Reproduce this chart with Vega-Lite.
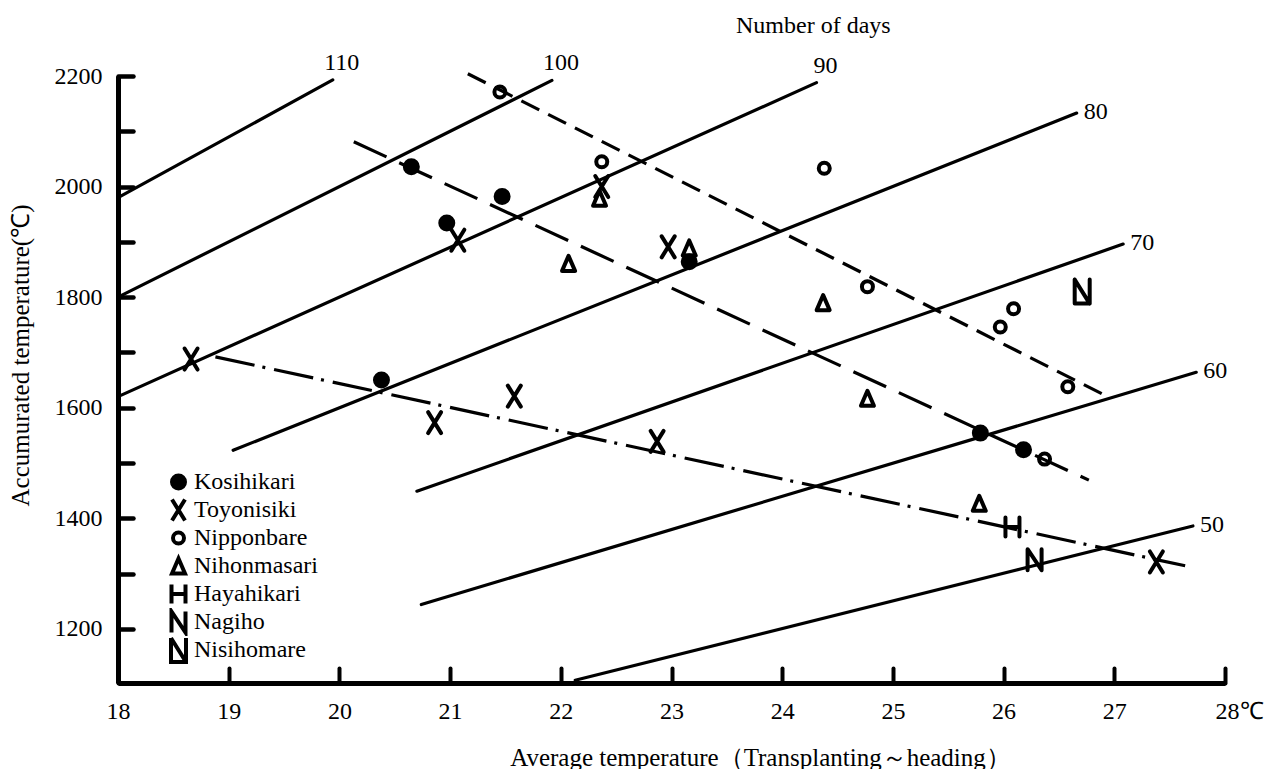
{
  "$schema": "https://vega.github.io/schema/vega-lite/v6.json",
  "width": 1107,
  "height": 607,
  "autosize": "none",
  "padding": {"left": 118, "top": 76, "right": 39, "bottom": 86},
  "background": "white",
  "config": {"view": {"stroke": null}, "font": "Liberation Serif"},
  "title": {"text": "Number of days", "anchor": "start", "frame": "group", "dx": 618, "offset": 13, "fontSize": 24, "fontWeight": "normal", "font": "Liberation Serif", "color": "black"},
  "datasets": {
    "pts": [
      {"v": "Kosihikari", "T": 20.65, "A": 2036},
      {"v": "Kosihikari", "T": 21.47, "A": 1982},
      {"v": "Kosihikari", "T": 20.97, "A": 1934},
      {"v": "Kosihikari", "T": 23.16, "A": 1864},
      {"v": "Kosihikari", "T": 20.38, "A": 1650},
      {"v": "Kosihikari", "T": 25.79, "A": 1554},
      {"v": "Kosihikari", "T": 26.18, "A": 1524},
      {"v": "Toyonisiki", "T": 18.66, "A": 1688},
      {"v": "Toyonisiki", "T": 21.07, "A": 1903},
      {"v": "Toyonisiki", "T": 22.37, "A": 2000},
      {"v": "Toyonisiki", "T": 22.97, "A": 1891},
      {"v": "Toyonisiki", "T": 20.86, "A": 1573},
      {"v": "Toyonisiki", "T": 21.58, "A": 1621},
      {"v": "Toyonisiki", "T": 22.87, "A": 1539},
      {"v": "Toyonisiki", "T": 27.38, "A": 1321},
      {"v": "Nipponbare", "T": 21.45, "A": 2171},
      {"v": "Nipponbare", "T": 22.37, "A": 2045},
      {"v": "Nipponbare", "T": 24.38, "A": 2033},
      {"v": "Nipponbare", "T": 24.77, "A": 1819},
      {"v": "Nipponbare", "T": 26.09, "A": 1779},
      {"v": "Nipponbare", "T": 25.97, "A": 1746},
      {"v": "Nipponbare", "T": 26.58, "A": 1638},
      {"v": "Nipponbare", "T": 26.37, "A": 1507},
      {"v": "Nihonmasari", "T": 22.35, "A": 1979},
      {"v": "Nihonmasari", "T": 22.07, "A": 1861},
      {"v": "Nihonmasari", "T": 23.16, "A": 1889},
      {"v": "Nihonmasari", "T": 24.37, "A": 1790},
      {"v": "Nihonmasari", "T": 24.77, "A": 1617},
      {"v": "Nihonmasari", "T": 25.78, "A": 1427},
      {"v": "Hayahikari", "T": 26.08, "A": 1384},
      {"v": "Nagiho", "T": 26.28, "A": 1325},
      {"v": "Nisihomare", "T": 26.71, "A": 1810}
    ],
    "iso": [
      {"days": 110, "T": 18, "A": 1980, "end": 0}, {"days": 110, "T": 19.94, "A": 2193, "end": 1},
      {"days": 100, "T": 18, "A": 1800, "end": 0}, {"days": 100, "T": 21.92, "A": 2192, "end": 1},
      {"days": 90, "T": 18, "A": 1620, "end": 0}, {"days": 90, "T": 24.31, "A": 2188, "end": 1},
      {"days": 80, "T": 19.04, "A": 1523, "end": 0}, {"days": 80, "T": 26.66, "A": 2133, "end": 1},
      {"days": 70, "T": 20.7, "A": 1449, "end": 0}, {"days": 70, "T": 27.08, "A": 1896, "end": 1},
      {"days": 60, "T": 20.74, "A": 1244, "end": 0}, {"days": 60, "T": 27.74, "A": 1664, "end": 1},
      {"days": 50, "T": 22.13, "A": 1107, "end": 0}, {"days": 50, "T": 27.71, "A": 1386, "end": 1}
    ],
    "reg": [
      {"line": "Nipponbare", "T": 21.16, "A": 2204}, {"line": "Nipponbare", "T": 26.96, "A": 1618},
      {"line": "Kosihikari", "T": 20.13, "A": 2081}, {"line": "Kosihikari", "T": 26.77, "A": 1469},
      {"line": "Toyonisiki", "T": 18.88, "A": 1692}, {"line": "Toyonisiki", "T": 27.64, "A": 1314}
    ]
  },
  "layer": [
    {
      "data": {"name": "iso"},
      "mark": {"type": "line", "color": "black", "strokeWidth": 3.2, "strokeCap": "round"},
      "encoding": {
        "x": {"field": "T", "type": "quantitative", "scale": {"domain": [18, 28], "nice": false, "zero": false},
          "axis": {
            "values": [18, 18.5, 19, 19.5, 20, 20.5, 21, 21.5, 22, 22.5, 23, 23.5, 24, 24.5, 25, 25.5, 26, 26.5, 27, 27.5, 28],
            "format": "d",
            "labelExpr": "datum.value % 1 == 0 ? (datum.value == 28 ? '28℃' : datum.label) : ''",
            "labelOffset": {"condition": {"test": "datum.value == 28", "value": 14}, "value": 0},
            "grid": false, "tickSize": -15, "tickWidth": 4, "tickColor": "black", "tickCap": "round",
            "domainWidth": 5, "domainColor": "black",
            "labelFontSize": 24, "labelFont": "Liberation Serif", "labelColor": "black", "labelPadding": 31,
            "labelFlush": false, "labelOverlap": false,
            "title": "Average temperature（Transplanting～heading）",
            "titleFont": "Liberation Serif", "titleFontSize": 25, "titleFontWeight": "normal", "titleColor": "black",
            "titleX": 642, "titleY": 74, "titleBaseline": "middle", "titleAlign": "center"
          }},
        "y": {"field": "A", "type": "quantitative", "scale": {"domain": [1102, 2200], "nice": false, "zero": false},
          "axis": {
            "values": [1200, 1300, 1400, 1500, 1600, 1700, 1800, 1900, 2000, 2100, 2200],
            "format": "d",
            "labelExpr": "datum.value % 200 == 0 ? datum.label : ''",
            "grid": false, "tickSize": -15, "tickWidth": 4.5, "tickColor": "black", "tickCap": "round",
            "domainWidth": 5, "domainColor": "black",
            "labelFontSize": 24, "labelFont": "Liberation Serif", "labelColor": "black", "labelPadding": 31,
            "labelFlush": false, "labelOverlap": false, "labelBaseline": "middle",
            "title": "Accumurated temperature(℃)",
            "titleFont": "Liberation Serif", "titleFontSize": 25, "titleFontWeight": "normal", "titleColor": "black",
            "titleX": -98, "titleY": 279, "titleAngle": 270, "titleBaseline": "middle", "titleAlign": "center"
          }},
        "detail": {"field": "days", "type": "nominal"}
      }
    },
    {
      "data": {"name": "iso"},
      "transform": [{"filter": "datum.end == 1 && datum.days >= 90"}],
      "mark": {"type": "text", "align": "center", "baseline": "middle", "dx": 9, "dy": -17, "fontSize": 24, "font": "Liberation Serif", "color": "black"},
      "encoding": {
        "x": {"field": "T", "type": "quantitative"},
        "y": {"field": "A", "type": "quantitative"},
        "text": {"field": "days", "type": "quantitative"}
      }
    },
    {
      "data": {"name": "iso"},
      "transform": [{"filter": "datum.end == 1 && datum.days < 90"}],
      "mark": {"type": "text", "align": "left", "baseline": "middle", "dx": 7, "dy": -1, "fontSize": 24, "font": "Liberation Serif", "color": "black"},
      "encoding": {
        "x": {"field": "T", "type": "quantitative"},
        "y": {"field": "A", "type": "quantitative"},
        "text": {"field": "days", "type": "quantitative"}
      }
    },
    {
      "data": {"name": "reg"},
      "mark": {"type": "line", "color": "black", "strokeWidth": 3.2},
      "encoding": {
        "x": {"field": "T", "type": "quantitative"},
        "y": {"field": "A", "type": "quantitative"},
        "strokeDash": {"field": "line", "type": "nominal", "legend": null,
          "scale": {"domain": ["Nipponbare", "Kosihikari", "Toyonisiki"], "range": [[20, 10], [36, 14], [40, 8, 3, 9]]}}
      }
    },
    {
      "data": {"name": "pts"},
      "mark": {"type": "point", "filled": false, "size": 625, "color": "black", "stroke": "black", "strokeWidth": 4, "opacity": 1, "strokeCap": "round", "strokeJoin": "round"},
      "encoding": {
        "x": {"field": "T", "type": "quantitative"},
        "y": {"field": "A", "type": "quantitative"},
        "shape": {"field": "v", "type": "nominal",
          "scale": {"domain": ["Kosihikari", "Toyonisiki", "Nipponbare", "Nihonmasari", "Hayahikari", "Nagiho", "Nisihomare"],
            "range": [
              "M-0.52,0A0.52,0.52 0 1,1 0.52,0A0.52,0.52 0 1,1 -0.52,0ZM-0.34,0A0.34,0.34 0 1,1 0.34,0A0.34,0.34 0 1,1 -0.34,0ZM-0.16,0A0.16,0.16 0 1,1 0.16,0A0.16,0.16 0 1,1 -0.16,0Z",
              "M-0.52,-0.84L0.52,0.84M0.52,-0.84L-0.52,0.84",
              "M-0.44,0A0.44,0.44 0 1,1 0.44,0A0.44,0.44 0 1,1 -0.44,0Z",
              "M0,-0.6L0.52,0.6L-0.52,0.6Z",
              "M-0.56,-0.76L-0.56,0.76M0.56,-0.76L0.56,0.76M-0.56,0L0.56,0",
              "M-0.56,0.84L-0.56,-0.84L0.56,0.84L0.56,-0.84",
              "M-0.6,-0.96L-0.6,0.96L0.6,0.96L0.6,-0.96M-0.6,-0.96L0.6,0.96"
            ]},
          "legend": {"orient": "none", "legendX": 46, "legendY": 392, "title": null, "padding": 0,
            "symbolSize": 625, "symbolStrokeWidth": 4, "symbolStrokeColor": "black", "symbolFillColor": "transparent",
            "gridAlign": "all", "clipHeight": 28,
            "labelFontSize": 24, "labelFont": "Liberation Serif", "labelColor": "black", "rowPadding": 0, "labelOffset": 1,
            "encode": {"symbols": {"update": {"stroke": {"value": "black"}, "strokeWidth": {"value": 4}, "fill": {"value": "transparent"}, "opacity": {"value": 1}}}}}}
      }
    }
  ]
}
